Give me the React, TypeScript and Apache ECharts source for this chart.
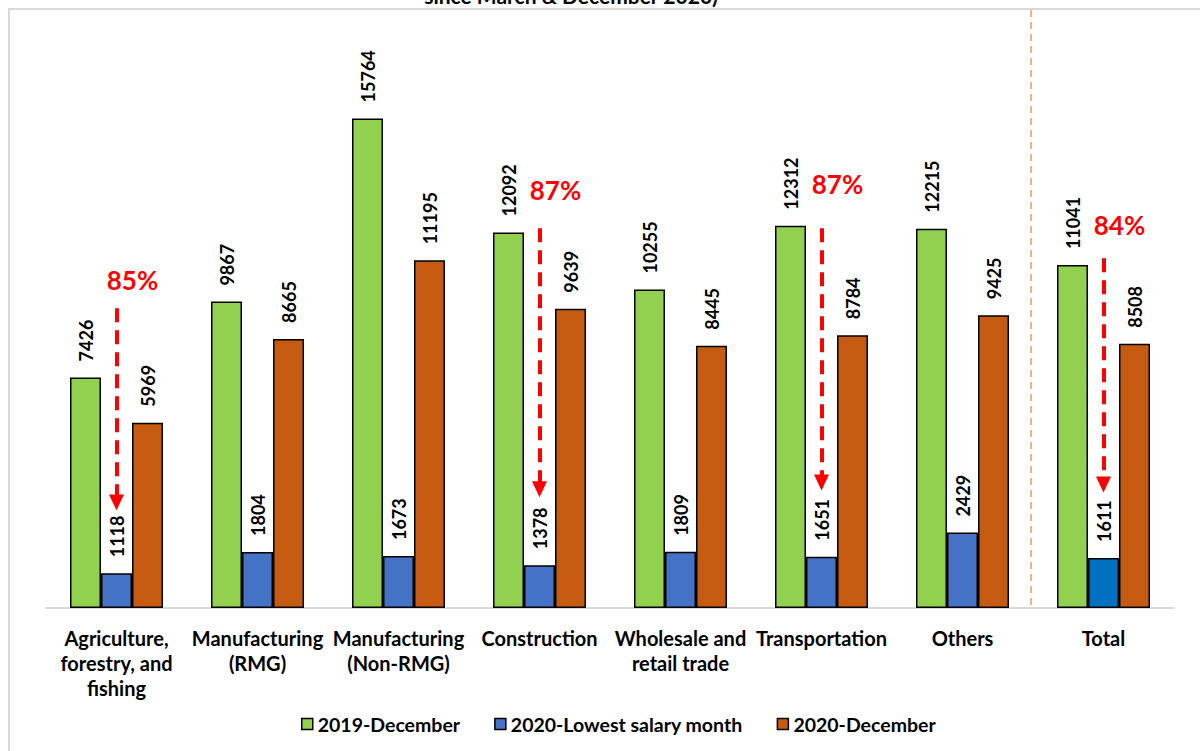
import React, { useEffect, useRef } from "react";
import * as echarts from "echarts";

const categories = [
  "Agriculture,\nforestry, and\nfishing",
  "Manufacturing\n(RMG)",
  "Manufacturing\n(Non-RMG)",
  "Construction",
  "Wholesale and\nretail trade",
  "Transportation",
  "Others",
  "Total",
];
const seriesNames = ["2019-December", "2020-Lowest salary month", "2020-December"];
const salary2019Dec = [7426, 9867, 15764, 12092, 10255, 12312, 12215, 11041];
const salary2020Lowest = [1118, 1804, 1673, 1378, 1809, 1651, 2429, 1611];
const salary2020Dec = [5969, 8665, 11195, 9639, 8445, 8784, 9425, 8508];

// Drop annotations: category index, percent text, text level, arrow start and end levels
const dropCategory = [0, 3, 5, 7];
const dropText = ["85%", "87%", "87%", "84%"];
const dropTextLevel = [10550, 13450, 13640, 12320];
const dropArrowFrom = [9650, 12230, 12230, 11260];
const dropArrowTo = [3400, 3820, 4040, 3980];

const FONT = "Lato, 'Open Sans', 'DejaVu Sans', sans-serif";
const GREEN = "#92D050";
const BLUE = "#4472C4";
const TOTAL_BLUE = "#0070C0";
const ORANGE = "#C55A11";

export default function App() {
  const ref = useRef<HTMLDivElement>(null);

  useEffect(() => {
    if (!ref.current) return;
    const chart = echarts.init(ref.current, undefined, { renderer: "svg" });

    const valueLabel = {
      show: true,
      position: "top" as const,
      rotate: 90,
      align: "left" as const,
      verticalAlign: "middle" as const,
      distance: 16,
      color: "#000",
      fontFamily: FONT,
      fontWeight: "bold" as const,
      fontSize: 18,
    };

    const barBase = {
      type: "bar" as const,
      barWidth: 31,
      barGap: "0%",
      label: valueLabel,
      itemStyle: { borderColor: "#000", borderWidth: 1.5 },
      emphasis: { disabled: true },
    };

    chart.setOption({
      animation: false,
      grid: { left: 46, right: 26, top: 49, bottom: 143 },
      legend: {
        left: 296,
        top: 709,
        itemWidth: 11,
        itemHeight: 11,
        itemGap: 34,
        icon: "rect",
        textStyle: {
          color: "#000",
          fontFamily: FONT,
          fontWeight: "bold",
          fontSize: 19.5,
          padding: [0, 0, 0, 0],
        },
        itemStyle: { borderColor: "#000", borderWidth: 1.5 },
        data: seriesNames,
      },
      xAxis: {
        type: "category",
        data: categories,
        axisLine: { lineStyle: { color: "#D9D9D9", width: 2 } },
        axisTick: { show: false },
        axisLabel: {
          color: "#000",
          fontFamily: FONT,
          fontWeight: "bold",
          fontSize: 20,
          lineHeight: 25,
          margin: 17,
          interval: 0,
        },
      },
      yAxis: {
        type: "value",
        min: 0,
        max: 18000,
        show: false,
        splitLine: { show: false },
      },
      series: [
        {
          ...barBase,
          name: seriesNames[0],
          data: salary2019Dec,
          itemStyle: { ...barBase.itemStyle, color: GREEN },
        },
        {
          ...barBase,
          name: seriesNames[1],
          data: salary2020Lowest.map((v, i) =>
            i === categories.length - 1 ? { value: v, itemStyle: { color: TOTAL_BLUE } } : v
          ),
          itemStyle: { ...barBase.itemStyle, color: BLUE },
          markLine: {
            silent: true,
            symbol: ["none", "triangle"],
            symbolSize: [15, 16],
            label: { show: false },
            lineStyle: { color: "#FF0000", width: 4, type: [14, 8] },
            emphasis: { disabled: true },
            data: dropCategory.map((c, i) => [
              { coord: [c, dropArrowFrom[i]] },
              { coord: [c, dropArrowTo[i]] },
            ]),
          },
          markPoint: {
            silent: true,
            symbol: "circle",
            symbolSize: 1,
            itemStyle: { color: "rgba(0,0,0,0)" },
            label: {
              show: true,
              position: "inside",
              offset: [16, 0],
              color: "#FF0000",
              fontFamily: FONT,
              fontWeight: "bold",
              fontSize: 26,
              formatter: (p: any) => p.name,
            },
            data: dropCategory.map((c, i) => ({
              name: dropText[i],
              coord: [c, dropTextLevel[i]],
            })),
          },
        },
        {
          ...barBase,
          name: seriesNames[2],
          data: salary2020Dec,
          itemStyle: { ...barBase.itemStyle, color: ORANGE },
        },
      ],
    });

    // Separator between the sectors and the total, plus the outer frame and title line
    const xOthers = chart.convertToPixel({ xAxisIndex: 0 }, 6) as number;
    const xTotal = chart.convertToPixel({ xAxisIndex: 0 }, 7) as number;
    const yBase = chart.convertToPixel({ yAxisIndex: 0 }, 0) as number;
    const xSep = (xOthers + xTotal) / 2 - 2;

    chart.setOption({
      graphic: [
        {
          type: "rect",
          z: -10,
          silent: true,
          shape: { x: 9, y: 9, width: 1400, height: 1000 },
          style: { fill: "none", stroke: "#D9D9D9", lineWidth: 2 },
        },
        {
          type: "line",
          silent: true,
          shape: { x1: xSep, y1: 10, x2: xSep, y2: yBase },
          style: { stroke: "#F4B183", lineWidth: 2, lineDash: [7, 5] },
        },
        {
          type: "text",
          silent: true,
          x: 571,
          y: 6,
          style: {
            text: "since March & December 2020)",
            fill: "#000",
            fontFamily: FONT,
            fontWeight: "bold",
            fontSize: 21,
            align: "center",
            verticalAlign: "bottom",
          },
        },
      ],
    });

    return () => chart.dispose();
  }, []);

  return (
    <div
      ref={ref}
      style={{ position: "fixed", left: 0, top: 0, width: 1200, height: 751, background: "#fff" }}
    />
  );
}
